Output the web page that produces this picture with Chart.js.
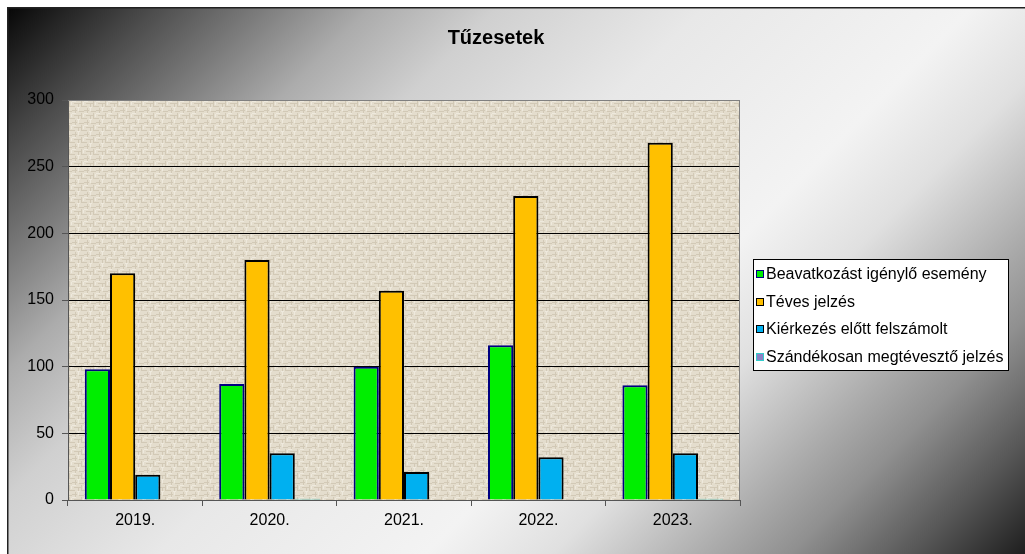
<!DOCTYPE html>
<html>
<head>
<meta charset="utf-8">
<script src="https://cdn.jsdelivr.net/npm/chart.js@4"></script>
<style>
  html, body { margin: 0; padding: 0; background: #fff; }
</style>
</head>
<body>
<canvas id="chart" width="1025" height="554"></canvas>
<script>
// Data
const years = ["2019.", "2020.", "2021.", "2022.", "2023."];
const beavatkozas = [98, 87, 100, 116, 86];
const teves = [170, 180, 157, 228, 268];
const kierkezes = [19, 35, 21, 32, 35];
const szandekos = [0, 1, 0, 0, 1];
const seriesNames = [
  "Beavatkozást igénylő esemény",
  "Téves jelzés",
  "Kiérkezés előtt felszámolt",
  "Szándékosan megtévesztő jelzés"
];

const FONT = "'Liberation Sans', Arial, sans-serif";

// small woven tile for the plot area
function burlapTile() {
  const c = document.createElement("canvas");
  c.width = 12; c.height = 12;
  const g = c.getContext("2d");
  g.fillStyle = "#e4ddcd"; g.fillRect(0, 0, 12, 12);
  g.fillStyle = "#d2c9b6";
  g.fillRect(0, 2, 5, 1); g.fillRect(7, 3, 5, 1);
  g.fillRect(2, 7, 7, 1); g.fillRect(0, 10, 3, 1); g.fillRect(9, 10, 3, 1);
  g.fillRect(3, 0, 1, 5); g.fillRect(9, 5, 1, 5); g.fillRect(6, 8, 1, 4);
  g.fillStyle = "#eee9dd";
  g.fillRect(0, 5, 4, 1); g.fillRect(6, 0, 1, 3); g.fillRect(5, 11, 3, 1); g.fillRect(11, 6, 1, 3);
  return c;
}

const background = {
  id: "background",
  beforeDraw(chart) {
    const { ctx, chartArea } = chart;
    ctx.save();
    ctx.fillStyle = "#fff";
    ctx.fillRect(0, 0, chart.width, chart.height);
    const grad = ctx.createLinearGradient(0, 0, 790, 790);
    grad.addColorStop(0, "#000");
    grad.addColorStop(0.1, "#4a4a4a");
    grad.addColorStop(0.165, "#777");
    grad.addColorStop(0.24, "#acacac");
    grad.addColorStop(0.32, "#d0d0d0");
    grad.addColorStop(0.45, "#e8e8e8");
    grad.addColorStop(0.62, "#f3f3f3");
    grad.addColorStop(0.7, "#e0e0e0");
    grad.addColorStop(0.8, "#aaa");
    grad.addColorStop(0.85, "#909090");
    grad.addColorStop(0.93, "#555");
    grad.addColorStop(1, "#1e1e1e");
    ctx.fillStyle = grad;
    ctx.fillRect(7, 7, chart.width - 7, chart.height - 7);
    ctx.fillStyle = "#222";
    ctx.fillRect(7, 7, chart.width - 7, 1.5);
    ctx.fillRect(7, 7, 1.5, chart.height - 7);
    // plot area
    ctx.fillStyle = ctx.createPattern(burlapTile(), "repeat");
    ctx.fillRect(chartArea.left, chartArea.top, chartArea.width, chartArea.height);
    ctx.restore();
  },
  beforeDatasetsDraw(chart) {
    const { ctx, chartArea } = chart;
    ctx.save();
    ctx.strokeStyle = "#808080";
    ctx.lineWidth = 1;
    ctx.beginPath();
    ctx.moveTo(chartArea.left, chartArea.top + 0.5);
    ctx.lineTo(chartArea.right - 0.5, chartArea.top + 0.5);
    ctx.lineTo(chartArea.right - 0.5, chartArea.bottom);
    ctx.stroke();
    ctx.restore();
  }
};

const legendBox = {
  id: "legendBox",
  afterDraw(chart) {
    const { ctx, chartArea } = chart;
    const x = chartArea.right + 13, y = chartArea.top + 159, w = 255, h = 111;
    ctx.save();
    ctx.fillStyle = "#fff";
    ctx.fillRect(x, y, w, h);
    ctx.strokeStyle = "#000";
    ctx.lineWidth = 1;
    ctx.strokeRect(x + 0.5, y + 0.5, w, h);
    ctx.font = "16px " + FONT;
    ctx.textBaseline = "middle";
    chart.data.datasets.forEach((ds, i) => {
      const cy = Math.round(y + 15 + i * 27.7);
      ctx.fillStyle = ds.backgroundColor;
      ctx.fillRect(x + 3, cy - 4, 8, 8);
      ctx.strokeStyle = ds.borderColor;
      ctx.strokeRect(x + 3.5, cy - 3.5, 7, 7);
      ctx.fillStyle = "#000";
      ctx.fillText(ds.label, x + 13, cy + 1);
    });
    ctx.restore();
  }
};

new Chart(document.getElementById("chart").getContext("2d"), {
  type: "bar",
  data: {
    labels: years,
    datasets: [
      { label: seriesNames[0], data: beavatkozas, backgroundColor: "#00ee00", borderColor: "#000080", borderWidth: 2 },
      { label: seriesNames[1], data: teves, backgroundColor: "#ffc000", borderColor: "#000", borderWidth: 2 },
      { label: seriesNames[2], data: kierkezes, backgroundColor: "#00b0f0", borderColor: "#000", borderWidth: 2 },
      { label: seriesNames[3], data: szandekos, backgroundColor: "#8c80c4", borderColor: "#33cccc", borderWidth: 2, borderSkipped: false }
    ]
  },
  options: {
    responsive: false,
    animation: false,
    categoryPercentage: 0.75,
    barPercentage: 1,
    layout: { padding: { left: 7, top: 7, right: 40, bottom: 0 } },
    plugins: {
      legend: { display: false },
      tooltip: { enabled: false },
      title: {
        display: true,
        text: "Tűzesetek",
        color: "#000",
        font: { family: FONT, size: 20, weight: "bold", lineHeight: 1.2 },
        padding: { top: 19, bottom: 50 }
      }
    },
    scales: {
      x: {
        grid: { drawOnChartArea: false, tickLength: 6, tickColor: "#555" },
        border: { color: "#555", width: 1 },
        ticks: { color: "#000", padding: 5, font: { family: FONT, size: 16 } },
        afterFit: (s) => { s.height = 54; }
      },
      y: {
        min: 0,
        max: 300,
        ticks: { stepSize: 50, color: "#000", padding: 8, font: { family: FONT, size: 16 } },
        grid: {
          color: (c) => (c.tick && c.tick.value === 300 ? "#808080" : "#000"),
          tickColor: "#555",
          tickLength: 6
        },
        border: { color: "#555", width: 1 },
        afterFit: (s) => { s.width = 61; }
      },
      // empty right axis that only reserves room for the legend
      yRoom: {
        position: "right",
        grid: { display: false },
        border: { display: false },
        ticks: { display: false },
        afterFit: (s) => { s.width = 245; }
      }
    }
  },
  plugins: [background, legendBox]
});
</script>
</body>
</html>
